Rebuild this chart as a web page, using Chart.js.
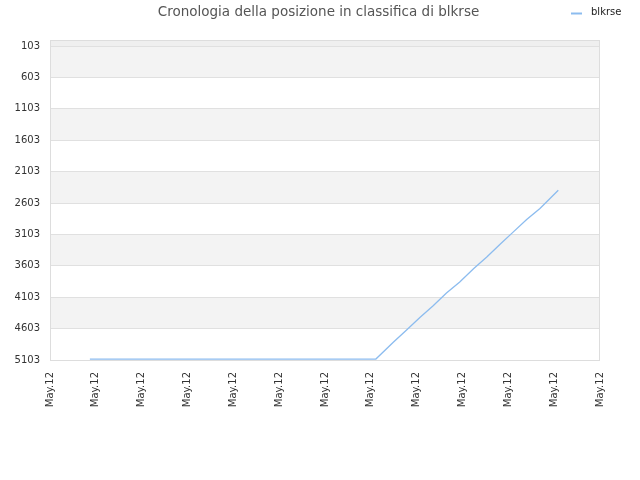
<!DOCTYPE html>
<html>
<head>
<meta charset="utf-8">
<script src="https://cdn.jsdelivr.net/npm/chart.js@4.4.1/dist/chart.umd.min.js"></script>
<style>
  html, body { margin: 0; padding: 0; background: #fff; }
  #wrap { width: 640px; height: 480px; }
</style>
</head>
<body>
<div id="wrap"><canvas id="chart" width="640" height="480"></canvas></div>
<script>
/* ranking history chart. */

const TITLE = 'Cronologia della posizione in classifica di blkrse';
const SERIES_LABEL = 'blkrse';

// x positions in tick units (0..12), rank values
const xs    = [0.87, 7.11, 7.49, 7.78, 8.07, 8.36, 8.65, 8.94, 9.24, 9.53, 9.82, 10.11, 10.40, 10.69, 11.09];
const ranks = [5088, 5088, 4820, 4624, 4427, 4240, 4037, 3862, 3649, 3462, 3261, 3063, 2867, 2691, 2399];

const xTickLabels = ['May.12', 'May.12', 'May.12', 'May.12', 'May.12', 'May.12', 'May.12',
                     'May.12', 'May.12', 'May.12', 'May.12', 'May.12', 'May.12'];
const yTicks = [103, 603, 1103, 1603, 2103, 2603, 3103, 3603, 4103, 4603, 5103];
const yMin = 7;

const FONT = 'DejaVu Sans';

// alternating horizontal bands behind the grid
const bandsPlugin = {
  id: 'bands',
  beforeDraw(chart) {
    const { ctx, chartArea: a, scales: { y } } = chart;
    ctx.save();
    ctx.fillStyle = '#efefef';
    const topPx = y.getPixelForValue(yTicks[0]);
    ctx.fillRect(a.left, a.top, a.right - a.left, topPx - a.top);
    for (let i = 0; i < yTicks.length - 1; i++) {
      const p0 = y.getPixelForValue(yTicks[i]);
      const p1 = y.getPixelForValue(yTicks[i + 1]);
      ctx.fillStyle = i % 2 === 0 ? '#f3f3f3' : '#ffffff';
      ctx.fillRect(a.left, p0, a.right - a.left, p1 - p0);
    }
    ctx.restore();
  },
  afterDatasetsDraw(chart) {
    const { ctx, chartArea: a } = chart;
    ctx.save();
    ctx.strokeStyle = '#dddddd';
    ctx.lineWidth = 1;
    ctx.strokeRect(a.left + 0.5, a.top + 0.5, a.right - a.left - 1, a.bottom - a.top);
    ctx.restore();
  },
};

// title across the whole canvas and a small legend in the top right corner
const headerPlugin = {
  id: 'header',
  afterDraw(chart) {
    const { ctx } = chart;
    const ds = chart.data.datasets[0];
    ctx.save();
    ctx.fillStyle = '#555';
    ctx.font = `13.5px ${FONT}`;
    ctx.textAlign = 'center';
    ctx.textBaseline = 'middle';
    ctx.fillText(TITLE, 318.5, 12);

    ctx.strokeStyle = ds.borderColor;
    ctx.lineWidth = 2;
    ctx.beginPath();
    ctx.moveTo(571, 13.5);
    ctx.lineTo(582, 13.5);
    ctx.stroke();
    ctx.fillStyle = '#222';
    ctx.font = `10px ${FONT}`;
    ctx.textAlign = 'left';
    ctx.fillText(ds.label, 591, 12);
    ctx.restore();
  },
};

new Chart(document.getElementById('chart').getContext('2d'), {
  type: 'line',
  data: {
    datasets: [{
      label: SERIES_LABEL,
      data: xs.map((x, i) => ({ x, y: ranks[i] })),
      borderColor: '#8cbcef',
      borderWidth: 1.3,
      pointRadius: 0,
      tension: 0,
      fill: false,
    }],
  },
  options: {
    responsive: false, animation: false,
    layout: { padding: { left: 0, right: 40, top: 40, bottom: 0 } },
    scales: {
      x: {
        type: 'linear', min: 0, max: 12,
        grid: { display: false },
        border: { display: false },
        afterBuildTicks: (s) => { s.ticks = xTickLabels.map((_, i) => ({ value: i })); },
        afterFit: (s) => { s.height = 120; },
        ticks: {
          autoSkip: false, maxRotation: 90, minRotation: 90, padding: 4,
          color: '#333', font: { family: FONT, size: 10 },
          callback: (v, i) => xTickLabels[i],
        },
      },
      y: {
        type: 'linear', reverse: true, min: yMin, max: yTicks[yTicks.length - 1],
        grid: { color: '#e0e0e0', drawTicks: false },
        border: { display: false },
        afterBuildTicks: (s) => { s.ticks = yTicks.map((v) => ({ value: v })); },
        afterFit: (s) => { s.width = 50; },
        ticks: {
          padding: 10, color: '#333', font: { family: FONT, size: 10 },
          callback: (v) => String(v),
        },
      },
    },
    plugins: {
      legend: { display: false },
      tooltip: { enabled: false },
      title: { display: false },
    },
  },
  plugins: [bandsPlugin, headerPlugin],
});
</script>
</body>
</html>
